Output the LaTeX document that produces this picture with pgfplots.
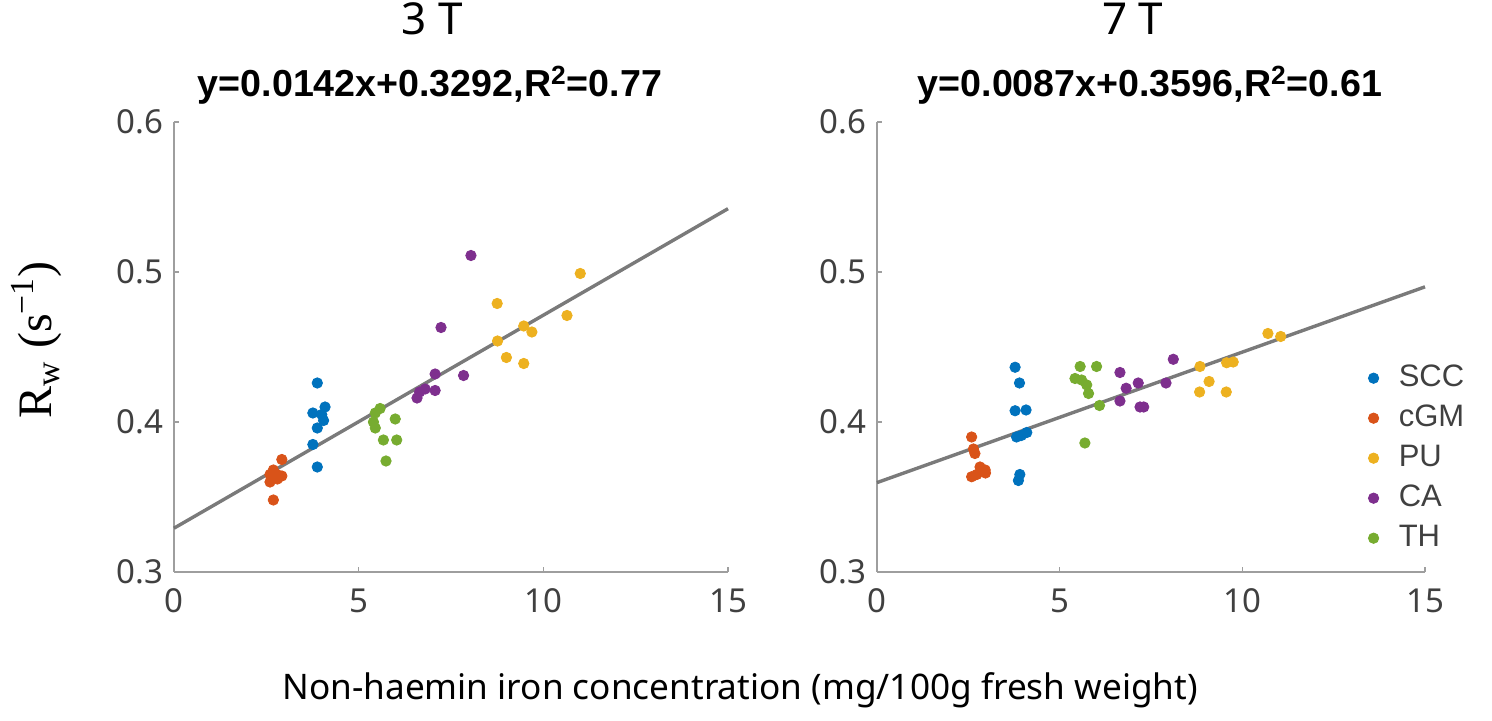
\documentclass[border=0pt]{standalone}
\usepackage{fontspec}
\setmainfont{Noto Sans}
\newfontfamily\legfont{Liberation Sans}
\newfontfamily\serifont{Liberation Serif}
\usepackage{pgfplots}
\pgfplotsset{compat=1.18}
\definecolor{cSCC}{rgb}{0,0.447,0.741}
\definecolor{cGM}{rgb}{0.85,0.325,0.098}
\definecolor{cPU}{rgb}{0.929,0.694,0.125}
\definecolor{cCA}{rgb}{0.494,0.184,0.556}
\definecolor{cTH}{rgb}{0.466,0.674,0.188}
\definecolor{axgray}{rgb}{0.62,0.62,0.62}
\definecolor{tickgray}{rgb}{0.25,0.25,0.25}
\definecolor{fitgray}{rgb}{0.42,0.42,0.42}
\pgfplotsset{
  myax/.style={
    scale only axis, width=277pt, height=225pt,
    xmin=0, xmax=15, ymin=0.3, ymax=0.6,
    axis lines=left, axis line style={-, draw=axgray, line width=0.8pt},
    xtick={0,5,10,15}, ytick={0.3,0.4,0.5,0.6},
    tick align=inside, major tick length=2.5pt,
    tick style={draw=axgray, line width=0.6pt},
    minor tick num=0,
    /pgf/number format/assume math mode=true,
    ticklabel style={font=\fontsize{16.5}{18}\selectfont, text=tickgray},
    xticklabel style={yshift=-5pt},
    yticklabel style={xshift=-2pt, /pgf/number format/.cd, fixed, fixed zerofill, precision=1, /tikz/.cd},
    clip=false,
  },
  sc/.style={only marks, mark=*, mark size=2.6pt, mark options={draw=#1, fill=#1}},
  fit/.style={no marks, draw=fitgray, line width=1.7pt, opacity=0.9, forget plot},
}
\begin{document}
\begin{tikzpicture}
\useasboundingbox (-87pt,-74.5pt) rectangle (659pt,286pt);
% ---------------- 3 T ----------------
\begin{axis}[myax]
\addplot[sc=cSCC] coordinates {(3.88,0.426)(4.09,0.410)(3.76,0.406)(4.00,0.405)(4.05,0.401)(3.88,0.396)(3.76,0.385)(3.88,0.370)};
\addplot[sc=cGM] coordinates {(2.92,0.375)(2.69,0.368)(2.78,0.365)(2.92,0.364)(2.60,0.360)(2.69,0.348)(2.60,0.365)(2.80,0.362)};
\addplot[sc=cPU] coordinates {(11.0,0.499)(8.75,0.479)(10.64,0.471)(9.47,0.464)(9.69,0.460)(8.76,0.454)(9.0,0.443)(9.47,0.439)};
\addplot[sc=cCA] coordinates {(8.04,0.511)(7.23,0.463)(7.07,0.432)(7.84,0.431)(7.07,0.421)(6.80,0.422)(6.65,0.420)(6.58,0.416)};
\addplot[sc=cTH] coordinates {(5.58,0.409)(5.45,0.406)(5.40,0.400)(5.45,0.396)(5.99,0.402)(5.67,0.388)(6.03,0.388)(5.74,0.374)};
\addplot[fit] coordinates {(0,0.3292)(15,0.5422)};
\node[font=\fontsize{22}{24}\selectfont] at (rel axis cs:0.466,1.229) {3 T};
\node[font=\legfont\bfseries\fontsize{18.8}{22}\selectfont] at (rel axis cs:0.462,1.082) {y=0.0142x+0.3292,R\textsuperscript{2}=0.77};
\node[rotate=90, font=\serifont\fontsize{24}{26}\selectfont] at (rel axis cs:-0.248,0.516) {R\textsubscript{w} (s\textsuperscript{−1})};
\node[font=\fontsize{17.6}{20}\selectfont] at (rel axis cs:1.022,-0.262) {Non-haemin iron concentration (mg/100g fresh weight)};
\end{axis}
% ---------------- 7 T ----------------
\begin{axis}[myax, xshift=351.5pt, width=274pt,
  legend style={at={(rel axis cs:0.885,0.476)}, anchor=north west, draw=none, fill=none,
    font=\legfont\fontsize{15.5}{18}\selectfont, text=tickgray,
    row sep=4pt, nodes={inner sep=1pt, text height=11pt, text depth=3pt},
    /tikz/every odd column/.append style={column sep=9pt}},
  legend cell align=left]
\addplot[sc=cSCC] coordinates {(3.78,0.4365)(3.90,0.426)(3.78,0.4075)(4.08,0.408)(3.82,0.390)(4.10,0.393)(3.95,0.391)(3.91,0.365)(3.87,0.361)};
\addlegendentry{SCC}
\addplot[sc=cGM] coordinates {(2.59,0.390)(2.64,0.382)(2.68,0.379)(2.82,0.370)(2.96,0.368)(2.59,0.3635)(2.73,0.365)(2.97,0.366)};
\addlegendentry{cGM}
\addplot[sc=cPU] coordinates {(8.84,0.437)(9.57,0.4395)(9.75,0.440)(9.09,0.427)(8.83,0.420)(9.56,0.420)(10.7,0.459)(11.05,0.457)};
\addlegendentry{PU}
\addplot[sc=cCA] coordinates {(8.11,0.4418)(6.65,0.433)(6.82,0.4225)(7.15,0.426)(7.91,0.426)(6.65,0.414)(7.20,0.410)(7.30,0.410)};
\addlegendentry{CA}
\addplot[sc=cTH] coordinates {(5.56,0.437)(6.01,0.437)(5.42,0.429)(5.60,0.428)(5.74,0.4247)(5.79,0.419)(6.09,0.411)(5.69,0.386)};
\addlegendentry{TH}
\addplot[fit] coordinates {(0,0.3596)(15,0.4901)};
\node[font=\fontsize{22}{24}\selectfont] at (rel axis cs:0.467,1.229) {7 T};
\node[font=\legfont\bfseries\fontsize{18.8}{22}\selectfont] at (rel axis cs:0.498,1.082) {y=0.0087x+0.3596,R\textsuperscript{2}=0.61};
\end{axis}
\end{tikzpicture}
\end{document}
